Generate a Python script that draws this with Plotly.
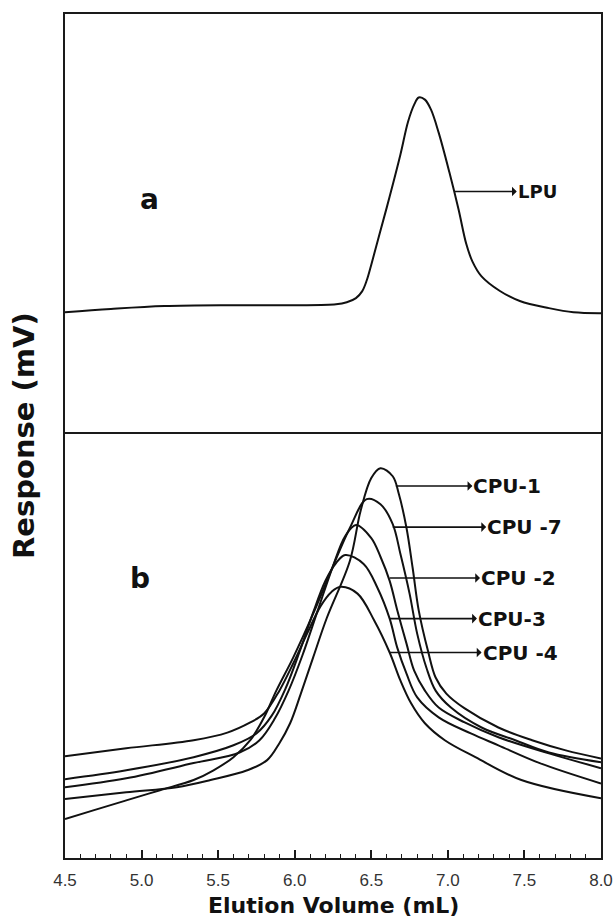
import plotly.graph_objects as go

# ---------------- data ----------------
# Panel a : LPU
lpu_volume = [4.50, 4.80, 5.15, 5.60, 6.00, 6.27, 6.34, 6.40, 6.44, 6.47, 6.50, 6.55, 6.62,
              6.69, 6.74, 6.78, 6.81, 6.85, 6.89, 6.94, 7.01, 7.07, 7.12, 7.16, 7.22, 7.34,
              7.47, 7.66, 7.82, 8.00]
lpu_response = [28.6, 29.4, 30.1, 30.3, 30.3, 30.5, 31.0, 32.0, 33.6, 36.2, 40.0, 46.8, 56.3,
                66.3, 74.2, 78.3, 80.0, 79.5, 77.1, 71.6, 62.1, 53.2, 45.0, 40.8, 37.2, 33.7,
                31.3, 29.6, 28.6, 28.4]

# Panel b : CPU series
cpu1_volume = [4.50, 4.90, 5.23, 5.45, 5.69, 5.82, 5.90, 5.97, 6.04, 6.12, 6.21, 6.36, 6.43,
               6.50, 6.56, 6.64, 6.68, 6.73, 6.77, 6.81, 6.87, 6.92, 6.99, 7.11, 7.33, 7.55,
               7.77, 8.00]
cpu1_response = [13.9, 15.5, 16.7, 18.4, 20.7, 23.1, 27.1, 31.8, 38.8, 47.3, 56.7, 70.1, 81.9,
                 89.7, 92.0, 90.1, 85.9, 77.9, 68.5, 58.4, 48.9, 42.6, 38.8, 35.3, 30.8, 27.8,
                 25.4, 23.5]

cpu7_volume = [4.50, 4.69, 4.90, 5.12, 5.34, 5.47, 5.60, 5.71, 5.80, 5.88, 5.99, 6.12, 6.25,
               6.36, 6.47, 6.56, 6.64, 6.69, 6.75, 6.80, 6.86, 6.92, 7.02, 7.22, 7.44, 7.66,
               8.00]
cpu7_response = [9.2, 11.3, 13.6, 16.0, 18.4, 20.7, 23.8, 27.8, 33.2, 39.5, 47.3, 57.6, 68.9,
                 77.9, 84.7, 83.5, 78.8, 71.8, 62.4, 52.9, 44.9, 39.5, 35.5, 30.8, 27.8, 24.9,
                 22.6]

cpu2_volume = [4.50, 4.90, 5.34, 5.64, 5.77, 5.87, 5.96, 6.05, 6.15, 6.25, 6.33, 6.40, 6.50,
               6.56, 6.62, 6.67, 6.73, 6.78, 6.85, 6.94, 7.11, 7.33, 7.66, 8.00]
cpu2_response = [16.7, 18.8, 22.4, 24.9, 27.8, 32.9, 39.5, 47.8, 58.4, 68.9, 76.0, 78.6, 75.5,
                 71.1, 65.4, 58.4, 50.6, 44.2, 39.5, 35.5, 32.0, 28.5, 24.7, 21.2]

cpu3_volume = [4.50, 4.90, 5.34, 5.60, 5.75, 5.85, 5.94, 6.03, 6.12, 6.20, 6.27, 6.33, 6.45,
               6.54, 6.62, 6.67, 6.73, 6.80, 6.94, 7.15, 7.33, 7.60, 8.00]
cpu3_response = [18.6, 20.7, 23.8, 26.6, 29.4, 33.6, 40.0, 48.5, 57.9, 65.4, 69.6, 71.5, 69.4,
                 63.8, 56.5, 49.6, 43.5, 37.9, 33.2, 29.4, 26.6, 22.4, 17.6]

cpu4_volume = [4.50, 4.90, 5.34, 5.56, 5.71, 5.80, 5.90, 5.99, 6.08, 6.17, 6.24, 6.30, 6.41,
               6.52, 6.62, 6.69, 6.76, 6.85, 6.98, 7.18, 7.48, 8.00]
cpu4_response = [24.0, 25.9, 27.8, 29.6, 32.0, 34.1, 39.5, 45.9, 52.9, 59.5, 62.8, 64.0, 62.4,
                 56.0, 48.5, 41.9, 36.5, 31.8, 27.8, 23.8, 18.4, 14.1]

x_ticks = [4.5, 5.0, 5.5, 6.0, 6.5, 7.0, 7.5, 8.0]
x_tick_labels = ["4.5", "5.0", "5.5", "6.0", "6.5", "7.0", "7.5", "8.0"]

# ---------------- figure ----------------
LINE = dict(color="#111111", width=2, shape="spline", smoothing=1.0)
fig = go.Figure()

fig.add_trace(go.Scatter(x=lpu_volume, y=lpu_response, mode="lines", line=LINE,
                         xaxis="x2", yaxis="y2", name="LPU", showlegend=False))

for vx, vy, nm in [(cpu1_volume, cpu1_response, "CPU-1"),
                   (cpu7_volume, cpu7_response, "CPU-7"),
                   (cpu2_volume, cpu2_response, "CPU-2"),
                   (cpu3_volume, cpu3_response, "CPU-3"),
                   (cpu4_volume, cpu4_response, "CPU-4")]:
    fig.add_trace(go.Scatter(x=vx, y=vy, mode="lines", line=LINE,
                             xaxis="x", yaxis="y", name=nm, showlegend=False))

BORDER = "#1a1a1a"
fig.update_layout(
    width=614, height=920,
    margin=dict(l=65, r=13, t=14, b=62, autoexpand=False),
    paper_bgcolor="white", plot_bgcolor="white",
    xaxis=dict(range=[4.5, 8.0], anchor="y", domain=[0, 1], automargin=False,
               tickmode="array", tickvals=x_ticks, ticktext=x_tick_labels,
               ticks="inside", ticklen=8, tickwidth=1.5, tickcolor=BORDER,
               minor=dict(dtick=0.1, ticks="inside", ticklen=4, tickwidth=1.2, tickcolor=BORDER),
               showline=True, mirror=True, linecolor=BORDER, linewidth=2,
               showgrid=False, zeroline=False, ticklabelstandoff=6,
               tickfont=dict(family="Liberation Sans, Arial", size=17, color="#333333")),
    yaxis=dict(range=[0, 100], domain=[0, 0.502], anchor="x", automargin=False,
               showticklabels=False, ticks="", showgrid=False, zeroline=False,
               showline=True, mirror=True, linecolor=BORDER, linewidth=2),
    xaxis2=dict(range=[4.5, 8.0], anchor="y2", matches="x", automargin=False,
                showticklabels=False, ticks="", showgrid=False, zeroline=False,
                showline=True, mirror=True, linecolor=BORDER, linewidth=2),
    yaxis2=dict(range=[0, 100], domain=[0.505, 1], anchor="x2", automargin=False,
                showticklabels=False, ticks="", showgrid=False, zeroline=False,
                showline=True, mirror=True, linecolor=BORDER, linewidth=2),
)

ann = []
# panel letters
ann.append(dict(x=5.05, y=55.7, xref="x2", yref="y2", text="<b>a</b>", showarrow=False,
                font=dict(family="DejaVu Sans, Arial", size=28, color="#111111")))
ann.append(dict(x=4.99, y=66.0, xref="x", yref="y", text="<b>b</b>", showarrow=False,
                font=dict(family="DejaVu Sans, Arial", size=28, color="#111111")))

def arrow_label(text, x0, y0, xt, xr, yr, size=20):
    return dict(x=x0, y=y0, ax=xt, ay=y0, xref=xr, yref=yr, axref=xr, ayref=yr,
                text="<b>" + text + "</b>", showarrow=True, arrowside="start",
                arrowhead=2, arrowsize=0.8, arrowwidth=1.6, arrowcolor="#111111",
                xanchor="left", yanchor="middle", borderpad=0,
                font=dict(family="DejaVu Sans, Arial", size=size, color="#111111"))

ann.append(arrow_label("LPU", 7.04, 57.5, 7.45, "x2", "y2", size=18))
ann.append(arrow_label("CPU-1", 6.66, 87.8, 7.16, "x", "y"))
ann.append(arrow_label("CPU -7", 6.64, 78.1, 7.25, "x", "y"))
ann.append(arrow_label("CPU -2", 6.62, 66.1, 7.21, "x", "y"))
ann.append(arrow_label("CPU-3", 6.62, 56.5, 7.19, "x", "y"))
ann.append(arrow_label("CPU -4", 6.62, 48.5, 7.22, "x", "y"))

# axis titles
ann.append(dict(x=0.5, y=0, xref="paper", yref="paper", xanchor="center", yanchor="top",
                yshift=-33, text="<b>Elution Volume (mL)</b>", showarrow=False,
                font=dict(family="DejaVu Sans, Arial", size=22, color="#111111")))
ann.append(dict(x=0, y=0.5, xref="paper", yref="paper", xanchor="right", yanchor="middle",
                xshift=-22, text="<b>Response (mV)</b>", textangle=-90, showarrow=False,
                font=dict(family="DejaVu Sans, Arial", size=29, color="#111111")))

fig.update_layout(annotations=ann)
fig.write_html("out.html")
